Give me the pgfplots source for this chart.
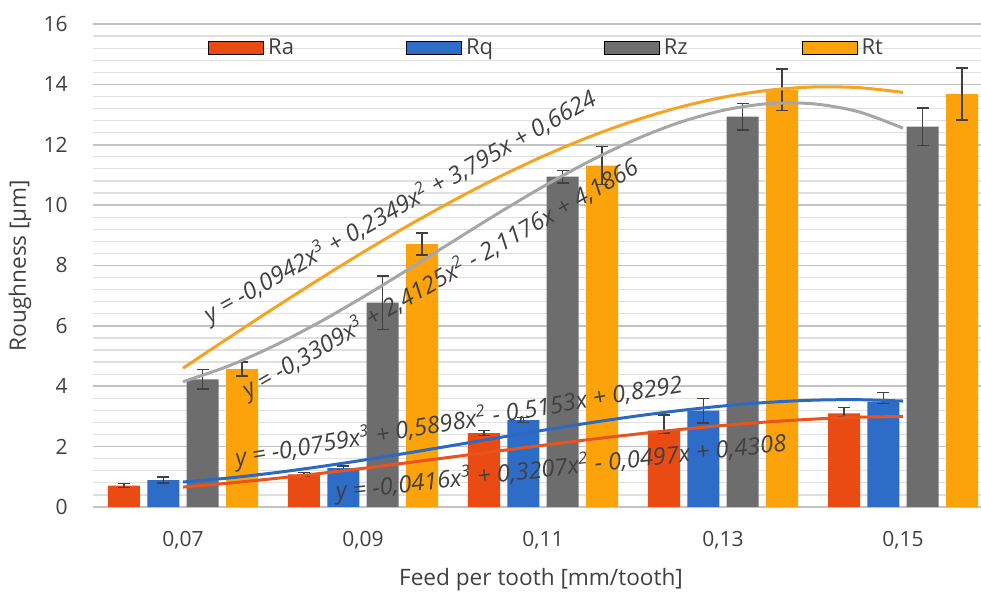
\documentclass[border=0pt]{standalone}
\usepackage{fontspec}
\setmainfont{Open Sans}
\usepackage{pgfplots}
\pgfplotsset{compat=1.18}
\definecolor{cRa}{HTML}{EA4B12}
\definecolor{cRq}{HTML}{2E6DC7}
\definecolor{cRz}{HTML}{6D6D6D}
\definecolor{cRt}{HTML}{FCA20A}
\definecolor{tRa}{HTML}{E8531E}
\definecolor{tRq}{HTML}{2A6AC4}
\definecolor{tRz}{HTML}{A6A6A6}
\definecolor{tRt}{HTML}{F5A320}
\definecolor{txt}{HTML}{404040}
\begin{document}
\begin{tikzpicture}
\begin{axis}[
  scale only axis, width=444pt, height=241.5pt,
  xmin=-0.5, xmax=4.433, ymin=0, ymax=16,
  axis line style={draw=none}, tick style={draw=none},
  ytick={0,2,...,16}, minor y tick num=4,
  ymajorgrids, yminorgrids,
  major grid style={color=black!24, line width=0.8pt},
  minor grid style={color=black!12, line width=0.6pt},
  xtick={0,1,2,3,4},
  xticklabels={{0,07},{0,09},{0,11},{0,13},{0,15}},
  /pgf/number format/assume math mode=true,
  ticklabel style={font=\fontsize{10.5}{12}\selectfont, text=txt},
  xticklabel style={anchor=center, yshift=-16.5pt},
  yticklabel style={anchor=east, inner sep=0pt, xshift=-12.5pt},
  xlabel={Feed per tooth [mm/tooth]},
  ylabel={Roughness [µm]},
  label style={font=\fontsize{11.3}{13}\selectfont, text=txt},
  xlabel style={at={(axis description cs:0.5045,-0.151)}, anchor=center},
  ylabel style={at={(axis description cs:-0.0822,0.5)}, anchor=center},
  legend image code/.code={\fill[#1] (0pt,-3.25pt) rectangle (27.5pt,3.25pt);},
  legend style={at={(axis description cs:0.1295,0.9503)}, anchor=west,
    legend columns=4, draw=none, fill=none, inner sep=0pt,
    font=\fontsize{11}{13}\selectfont, text=txt,
    /tikz/every even column/.append style={column sep=54pt}},
  error bars/y dir=both, error bars/y explicit,
  error bars/error bar style={line width=0.8pt, color=txt},
  error bars/error mark options={rotate=90, mark size=3pt, line width=0.8pt, color=txt},
]
% Bars (x = category index + group offset)
\addplot[forget plot, ybar, bar width=0.178, bar shift=0, fill=cRa, draw=none]
 coordinates {(-0.328,0.71) +- (0,0.07) (0.672,1.08) +- (0,0.06) (1.672,2.45) +- (0,0.08)
   (2.672,2.53) += (0,0.52) -= (0,0.07) (3.672,3.10) += (0,0.2) -= (0,0.1)};
\addplot[forget plot, ybar, bar width=0.178, bar shift=0, fill=cRq, draw=none]
 coordinates {(-0.109,0.89) +- (0,0.1) (0.891,1.29) +- (0,0.07) (1.891,2.88) +- (0,0.08)
   (2.891,3.19) +- (0,0.4) (3.891,3.49) += (0,0.3) -= (0,0.06)};
\addplot[forget plot, ybar, bar width=0.178, bar shift=0, fill=cRz, draw=none]
 coordinates {(0.109,4.23) +- (0,0.32) (1.109,6.77) +- (0,0.89) (2.109,10.94) +- (0,0.21)
   (3.109,12.93) +- (0,0.44) (4.109,12.6) +- (0,0.62)};
\addplot[forget plot, ybar, bar width=0.178, bar shift=0, fill=cRt, draw=none]
 coordinates {(0.328,4.57) +- (0,0.23) (1.328,8.71) +- (0,0.37) (2.328,11.31) +- (0,0.63)
   (3.328,13.82) +- (0,0.69) (4.328,13.68) +- (0,0.87)};
% Trendlines (cubic fits, sampled values)
\addplot[forget plot, smooth, tRt, line width=1.5pt, no marks, error bars/y dir=none]
 coordinates {(0,4.598) (0.25,5.589) (0.5,6.566) (0.75,7.518) (1,8.438) (1.25,9.317) (1.5,10.146) (1.75,10.916) (2,11.618) (2.25,12.244) (2.5,12.784) (2.75,13.229) (3,13.572) (3.25,13.803) (3.5,13.913) (3.75,13.893) (4,13.735)};
\addplot[forget plot, smooth, tRz, line width=1.5pt, no marks, error bars/y dir=none]
 coordinates {(0,4.151) (0.25,4.663) (0.5,5.322) (0.75,6.096) (1,6.954) (1.25,7.866) (1.5,8.800) (1.75,9.726) (2,10.612) (2.25,11.427) (2.5,12.141) (2.75,12.722) (3,13.139) (3.25,13.361) (3.5,13.357) (3.75,13.097) (4,12.549)};
\addplot[forget plot, smooth, tRq, line width=1.5pt, no marks, error bars/y dir=none]
 coordinates {(0,0.828) (0.25,0.958) (0.5,1.127) (0.75,1.327) (1,1.551) (1.25,1.791) (1.5,2.041) (1.75,2.294) (2,2.542) (2.25,2.779) (2.5,2.997) (2.75,3.188) (3,3.347) (3.25,3.466) (3.5,3.538) (3.75,3.555) (4,3.510)};
\addplot[forget plot, smooth, tRa, line width=1.5pt, no marks, error bars/y dir=none]
 coordinates {(0,0.660) (0.25,0.789) (0.5,0.937) (0.75,1.103) (1,1.281) (1.25,1.469) (1.5,1.661) (1.75,1.854) (2,2.045) (2.25,2.229) (2.5,2.402) (2.75,2.561) (3,2.701) (3.25,2.819) (3.5,2.911) (3.75,2.972) (4,3.000)};
% Legend
\addlegendimage{fill=cRa}
\addlegendimage{fill=cRq}
\addlegendimage{fill=cRz}
\addlegendimage{fill=cRt}
\legend{\makebox[13pt][l]{Ra},\makebox[13pt][l]{Rq},\makebox[13pt][l]{Rz},\makebox[13pt][l]{Rt}}
% Equations
\node[rotate=29.5, text=txt, font=\fontsize{11.8}{13}\itshape] at (axis cs:1.206,9.94)
 {y = -0,0942x\textsuperscript{3} + 0,2349x\textsuperscript{2} + 3,795x + 0,6624};
\node[rotate=30, text=txt, font=\fontsize{11.8}{13}\itshape] at (axis cs:1.43,7.55)
 {y = -0,3309x\textsuperscript{3} + 2,4125x\textsuperscript{2} - 2,1176x + 4,1866};
\node[rotate=9.5, text=txt, font=\fontsize{11.8}{13}\itshape] at (axis cs:1.533,2.82)
 {y = -0,0759x\textsuperscript{3} + 0,5898x\textsuperscript{2} - 0,5153x + 0,8292};
\node[rotate=6.2, text=txt, font=\fontsize{11.8}{13}\itshape] at (axis cs:2.10,1.29)
 {y = -0,0416x\textsuperscript{3} + 0,3207x\textsuperscript{2} - 0,0497x + 0,4308};
\end{axis}
\pgfresetboundingbox
\path[use as bounding box] ([xshift=-46.5pt,yshift=-42.5pt]current axis.south west) rectangle ([yshift=12pt]current axis.north east);
\end{tikzpicture}
\end{document}
